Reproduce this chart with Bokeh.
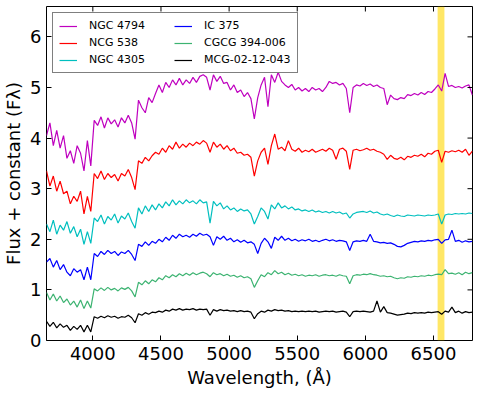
import math
from bokeh.plotting import figure
from bokeh.models import Range1d, Legend, LegendItem, BoxAnnotation, FixedTicker
from bokeh.embed import file_html
from bokeh.resources import INLINE

# ---------------- data ----------------
WAVELENGTH = list(range(3660, 6786, 25))   # Angstrom, 3660 ... 6785

NGC_4794 = [4.05, 4.30, 3.85, 4.15, 3.80, 4.05, 3.60, 3.75, 3.50, 3.85,
            3.70, 3.35, 3.95, 3.45, 4.35, 4.25, 4.42, 4.20, 4.40, 4.28,
            4.36, 4.22, 4.40, 4.30, 4.45, 4.30, 3.98, 4.75, 4.60, 4.50,
            4.80, 4.70, 4.88, 5.05, 4.90, 5.10, 5.00, 5.15, 5.05, 5.18,
            5.05, 5.15, 5.08, 5.20, 5.10, 5.22, 5.25, 5.20, 4.95, 5.25,
            5.12, 5.22, 5.08, 5.10, 4.95, 5.05, 4.90, 4.95, 4.82, 4.90,
            4.78, 4.38, 4.80, 5.05, 5.20, 4.62, 5.25, 5.10, 5.30, 5.12,
            5.05, 5.00, 5.06, 4.95, 5.00, 4.93, 4.98, 4.92, 5.00, 4.95,
            4.98, 4.92, 5.00, 5.12, 5.08, 5.10, 5.05, 5.08, 4.98, 4.50,
            5.00, 5.05, 5.03, 5.08, 5.04, 5.07, 5.02, 5.05, 5.00, 4.98,
            4.66, 4.85, 4.78, 4.76, 4.80, 4.78, 4.86, 4.84, 4.88, 4.85,
            4.90, 4.86, 4.92, 4.90, 4.97, 5.05, 4.93, 5.28, 5.02, 5.04,
            5.00, 5.02, 4.99, 5.03, 5.05, 4.85]

NCG_538 = [3.35, 3.05, 3.25, 2.95, 3.15, 2.90, 2.95, 2.70, 2.85, 2.75,
           2.95, 2.50, 2.85, 2.55, 3.30, 3.20, 3.35, 3.18, 3.30, 3.22,
           3.28, 3.15, 3.30, 3.25, 3.38, 3.22, 2.98, 3.55, 3.50, 3.62,
           3.55, 3.65, 3.72, 3.68, 3.80, 3.72, 3.85, 3.78, 3.92, 3.80,
           3.88, 3.82, 3.90, 3.85, 3.92, 3.88, 3.95, 3.90, 3.72, 3.92,
           3.82, 3.88, 3.78, 3.85, 3.75, 3.80, 3.70, 3.72, 3.66, 3.68,
           3.62, 3.25, 3.55, 3.72, 3.80, 3.48, 3.85, 4.08, 3.78, 3.82,
           3.75, 3.95, 3.78, 3.74, 3.80, 3.72, 3.76, 3.73, 3.78, 3.72,
           3.75, 3.78, 3.74, 3.80, 3.76, 3.58, 3.78, 3.80, 3.74, 3.38,
           3.76, 3.78, 3.75, 3.77, 3.80, 3.76, 3.78, 3.74, 3.72, 3.68,
           3.58, 3.66, 3.60, 3.58, 3.62, 3.57, 3.64, 3.62, 3.66, 3.64,
           3.68, 3.63, 3.70, 3.68, 3.74, 3.76, 3.52, 3.74, 3.72, 3.75,
           3.73, 3.76, 3.72, 3.78, 3.66, 3.74]

NGC_4305 = [2.30, 2.15, 2.38, 2.10, 2.28, 2.18, 2.35, 2.12, 2.25, 2.05,
            2.20, 1.90, 2.15, 1.92, 2.42, 2.35, 2.48, 2.30, 2.45, 2.38,
            2.50, 2.32, 2.46, 2.40, 2.52, 2.35, 2.22, 2.62, 2.50, 2.66,
            2.55, 2.68, 2.58, 2.70, 2.62, 2.74, 2.66, 2.78, 2.68, 2.76,
            2.70, 2.78, 2.72, 2.76, 2.70, 2.78, 2.72, 2.74, 2.32, 2.75,
            2.66, 2.72, 2.60, 2.66, 2.58, 2.62, 2.55, 2.60, 2.56, 2.58,
            2.50, 2.30, 2.45, 2.62, 2.55, 2.40, 2.68, 2.60, 2.72, 2.62,
            2.66, 2.60, 2.64, 2.58, 2.60, 2.56, 2.58, 2.55, 2.58, 2.54,
            2.56, 2.53, 2.55, 2.52, 2.55, 2.52, 2.54, 2.50, 2.52, 2.42,
            2.50, 2.53, 2.54, 2.55, 2.53, 2.56, 2.52, 2.54, 2.50, 2.48,
            2.50, 2.47, 2.45, 2.48, 2.46, 2.45, 2.48, 2.47, 2.46, 2.48,
            2.47, 2.46, 2.48, 2.47, 2.48, 2.50, 2.30, 2.48, 2.50, 2.49,
            2.51, 2.50, 2.51, 2.50, 2.52, 2.51]

IC_375 = [1.55, 1.62, 1.45, 1.58, 1.40, 1.50, 1.35, 1.28, 1.42, 1.35,
          1.40, 1.20, 1.45, 1.20, 1.72, 1.66, 1.76, 1.70, 1.78, 1.72,
          1.76, 1.68, 1.75, 1.72, 1.78, 1.70, 1.58, 1.90, 1.86, 1.95,
          1.88, 1.96, 1.92, 2.00, 1.95, 2.04, 1.98, 2.08, 2.02, 2.10,
          2.05, 2.08, 2.04, 2.10, 2.06, 2.12, 2.08, 2.10, 2.05, 1.88,
          2.05, 2.00, 2.06, 1.98, 2.02, 1.95, 1.99, 1.94, 1.98, 1.93,
          1.95, 1.90, 1.72, 1.92, 2.02, 1.95, 1.82, 2.04, 1.98, 2.06,
          1.98, 2.02, 1.97, 2.00, 1.96, 1.99, 1.97, 2.00, 1.96, 1.98,
          1.95, 1.98, 2.00, 1.97, 1.99, 1.96, 1.98, 1.97, 1.95, 1.78,
          1.95, 1.97, 1.96, 1.98, 1.96, 2.10, 1.96, 1.95, 1.93, 1.94,
          1.92, 1.93, 1.90, 1.86, 1.85, 1.88, 1.92, 1.94, 1.96, 1.95,
          1.97, 1.96, 1.98, 1.97, 1.99, 2.00, 1.92, 1.99, 2.00, 2.18,
          1.96, 1.98, 1.94, 1.97, 1.95, 1.96]

CGCG_394_006 = [0.95, 0.80, 0.92, 0.78, 0.88, 0.75, 0.82, 0.70, 0.78, 0.66,
                0.80, 0.63, 0.78, 0.64, 1.02, 0.98, 1.04, 0.99, 1.05, 1.00,
                1.03, 0.98, 1.04, 1.01, 1.05, 0.98, 0.86, 1.15, 1.10, 1.18,
                1.12, 1.20, 1.16, 1.24, 1.20, 1.28, 1.24, 1.30, 1.26, 1.32,
                1.28, 1.33, 1.29, 1.34, 1.30, 1.33, 1.35, 1.32, 1.26, 1.34,
                1.30, 1.32, 1.28, 1.31, 1.27, 1.29, 1.25, 1.28, 1.24, 1.26,
                1.22, 1.05, 1.18, 1.30, 1.26, 1.34, 1.30, 1.38, 1.32, 1.35,
                1.30, 1.33, 1.29, 1.31, 1.28, 1.30, 1.27, 1.29, 1.28, 1.30,
                1.27, 1.29, 1.30, 1.28, 1.29, 1.27, 1.30, 1.28, 1.27, 1.12,
                1.28, 1.30, 1.29, 1.31, 1.30, 1.32, 1.30, 1.29, 1.27, 1.28,
                1.26, 1.27, 1.24, 1.22, 1.24, 1.23, 1.26, 1.25, 1.27, 1.26,
                1.28, 1.27, 1.29, 1.28, 1.30, 1.31, 1.30, 1.40, 1.32, 1.33,
                1.31, 1.34, 1.30, 1.35, 1.32, 1.34]

MCG_02_12_043 = [0.38, 0.28, 0.36, 0.25, 0.33, 0.26, 0.30, 0.20, 0.28, 0.22,
                 0.30, 0.17, 0.30, 0.17, 0.47, 0.44, 0.48, 0.45, 0.49, 0.46,
                 0.48, 0.44, 0.47, 0.46, 0.50, 0.45, 0.35, 0.53, 0.50, 0.55,
                 0.52, 0.56, 0.55, 0.58, 0.56, 0.60, 0.58, 0.62, 0.60, 0.63,
                 0.60, 0.62, 0.61, 0.63, 0.60, 0.62, 0.61, 0.62, 0.50, 0.61,
                 0.58, 0.61, 0.59, 0.60, 0.58, 0.59, 0.57, 0.59, 0.57, 0.58,
                 0.56, 0.43, 0.53, 0.58, 0.56, 0.60, 0.58, 0.61, 0.59, 0.60,
                 0.58, 0.59, 0.57, 0.58, 0.57, 0.58, 0.57, 0.58, 0.57, 0.58,
                 0.56, 0.57, 0.58, 0.57, 0.58, 0.56, 0.57, 0.58, 0.56, 0.47,
                 0.57, 0.58, 0.57, 0.58, 0.57, 0.56, 0.58, 0.78, 0.56, 0.67,
                 0.55, 0.54, 0.52, 0.50, 0.51, 0.52, 0.54, 0.53, 0.55, 0.54,
                 0.55, 0.54, 0.56, 0.55, 0.56, 0.57, 0.52, 0.58, 0.56, 0.66,
                 0.55, 0.58, 0.54, 0.57, 0.55, 0.56]

SERIES_NAMES = ["NGC 4794", "NCG 538", "NGC 4305", "IC 375", "CGCG 394-006", "MCG-02-12-043"]
SERIES_VALUES = [NGC_4794, NCG_538, NGC_4305, IC_375, CGCG_394_006, MCG_02_12_043]
SERIES_COLORS = ["#BF00BF", "#FF0000", "#00BFBF", "#0000FF", "#3CB371", "#000000"]

HALPHA_BAND = [6530, 6580]
X_LIMITS = [3660, 6786]
Y_LIMITS = [0, 6.6]
X_TICKS = [4000, 4500, 5000, 5500, 6000, 6500]
Y_TICKS = [0, 1, 2, 3, 4, 5, 6]

FONT = "DejaVu Sans"

# ---------------- figure ----------------
p = figure(width=476, height=394, output_backend="svg", toolbar_location=None,
           x_range=Range1d(*X_LIMITS), y_range=Range1d(*Y_LIMITS),
           min_border_left=43, min_border_right=4, min_border_top=6, min_border_bottom=54)
p.grid.visible = False
p.outline_line_color = "black"
p.outline_line_width = 1
p.background_fill_color = "white"
p.border_fill_color = "white"

band = BoxAnnotation(left=HALPHA_BAND[0], right=HALPHA_BAND[1], fill_color="#FFD700",
                     fill_alpha=0.6, line_color=None, level="underlay")
p.add_layout(band)

legend_items = []
for name, vals, col in zip(SERIES_NAMES, SERIES_VALUES, SERIES_COLORS):
    r = p.line(WAVELENGTH, vals, line_color=col, line_width=1.2)
    legend_items.append(LegendItem(label=name, renderers=[r]))

# inward ticks on the top and right edges (mirroring the bottom / left ticks)
p.ray(x=X_TICKS, y=[Y_LIMITS[1]] * len(X_TICKS), length=5, length_units="screen",
      angle=-math.pi / 2, line_color="black", line_width=1)
p.ray(x=[X_LIMITS[1]] * len(Y_TICKS), y=Y_TICKS, length=5, length_units="screen",
      angle=math.pi, line_color="black", line_width=1)

for ax in (p.xaxis[0], p.yaxis[0]):
    ax.major_tick_in = 5
    ax.major_tick_out = 0
    ax.minor_tick_in = 0
    ax.minor_tick_out = 0
    ax.major_tick_line_color = "black"
    ax.axis_line_color = None
    ax.major_label_text_font = FONT
    ax.major_label_text_font_size = "18px"
    ax.major_label_text_color = "black"
    ax.axis_label_text_font = FONT
    ax.axis_label_text_font_size = "18px"
    ax.axis_label_text_font_style = "normal"
    ax.axis_label_text_color = "black"

p.xaxis.ticker = FixedTicker(ticks=X_TICKS)
p.yaxis.ticker = FixedTicker(ticks=Y_TICKS)
p.xaxis.axis_label = "Wavelength, (Å)"
p.yaxis.axis_label = "Flux + constant (Fλ)"
p.xaxis.major_label_standoff = 6
p.xaxis.axis_label_standoff = 4
p.yaxis.major_label_standoff = 5
p.yaxis.axis_label_standoff = 3

legend = Legend(items=legend_items, location="top_left", ncols=2,
                border_line_color="black", border_line_width=1, background_fill_alpha=1.0,
                margin=6, padding=6, spacing=4, glyph_width=18, glyph_height=12,
                label_height=12, label_standoff=12, label_width=81,
                label_text_font=FONT, label_text_font_size="11px", label_text_color="black")
p.add_layout(legend)

open("out.html", "w").write(file_html(p, INLINE))
